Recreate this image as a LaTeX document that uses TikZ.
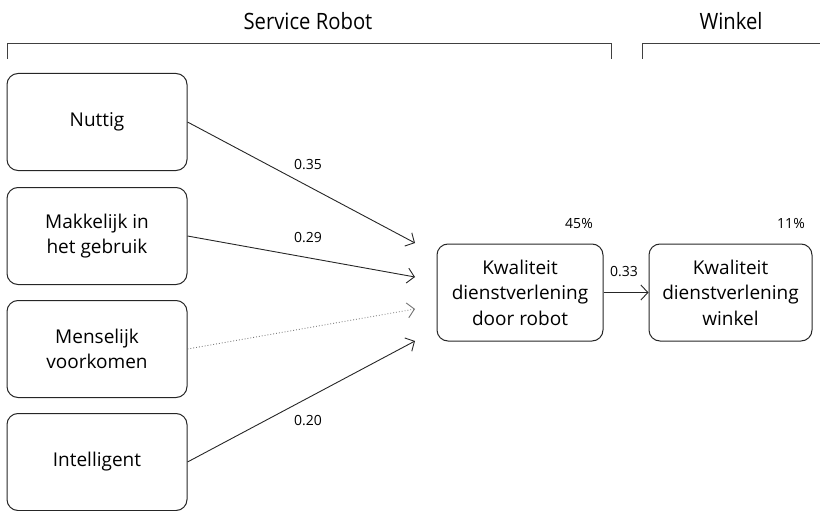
\documentclass[tikz,border=0pt]{standalone}
\usepackage{fontspec}
\setmainfont{Open Sans}
\newfontfamily\condfont[FakeStretch=0.9]{Open Sans}
\usetikzlibrary{arrows.meta}
\begin{document}
\begin{tikzpicture}[x=1pt,y=-1pt,
  box/.style={draw=black!85, line width=1pt, rounded corners=11pt, align=center,
    font=\fontsize{19}{25.5}\selectfont, inner sep=0pt},
  lbox/.style={box, minimum width=180pt, minimum height=97pt},
  mbox/.style={box, minimum width=166pt, minimum height=97pt},
  conn/.style={draw=black!85, line width=0.9pt, -{Straight Barb[length=7pt,width=15pt,line width=0.9pt]}},
  dotconn/.style={conn, draw=black!55, dotted, line width=0.8pt},
  wlabel/.style={font=\fontsize{14}{16}\selectfont, inner sep=0pt},
  title/.style={font=\condfont\fontsize{22.5}{26}\selectfont, inner sep=0pt},
  bracket/.style={draw=black!75, line width=1pt}]
\useasboundingbox (0,0) rectangle (820,511);

% titles and brackets
\node[title] (tsr) at (308,21) {Service Robot};
\node[title] (tw) at (731,21) {Winkel};
\draw[bracket] (7,59) -- (7,44) -- (611,44) -- (611,59);
\draw[bracket] (642,59) -- (642,44) -- (820,44);

% left boxes
\node[lbox] (n1) at (97,122) {Nuttig};
\node[lbox] (n2) at (97,236) {Makkelijk in\\het gebruik};
\node[lbox] (n3) at (97,349) {Menselijk\\voorkomen};
\node[lbox] (n4) at (97,462) {Intelligent};

% middle and right boxes
\node[mbox] (m) at (520,292.5) {Kwaliteit\\dienstverlening\\door robot};
\node[mbox, minimum width=163pt] (w) at (730.5,292.5) {Kwaliteit\\dienstverlening\\winkel};

% arrow end points
\coordinate (t1) at (415,243);
\coordinate (t2) at (415,277);
\coordinate (t3) at (415,309);
\coordinate (t4) at (415,341);

\draw[conn] (n1.east) -- (t1);
\draw[conn] (n2.east) -- (t2);
\draw[dotconn] (n3.east) -- (t3);
\draw[conn] (n4.east) -- (t4);
\draw[conn] (m.east) -- (w.west);

% labels
\node[wlabel] (l1) at (308,165) {0.35};
\node[wlabel] (l2) at (308,238) {0.29};
\node[wlabel] (l4) at (308,421) {0.20};
\node[wlabel] (l5) at (624,272) {0.33};
\node[wlabel] (p1) at (579,223) {45\%};
\node[wlabel] (p2) at (791,223) {11\%};
\end{tikzpicture}
\end{document}
